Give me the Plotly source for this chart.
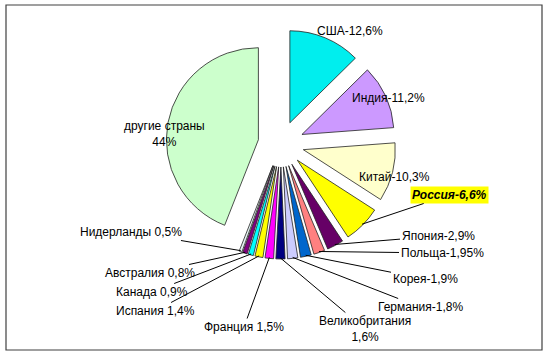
import math
import plotly.graph_objects as go

# ---- data ----
countries = ["США", "Индия", "Китай", "Россия", "Япония", "Польща", "Корея",
             "Германия", "Великобритания", "Франция", "Испания", "Канада",
             "Австралия", "Нидерланды", "другие страны"]
shares = [12.6, 11.2, 10.3, 6.6, 2.9, 1.95, 1.9, 1.8, 1.6, 1.5, 1.4, 0.9, 0.8, 0.5, 44]
share_text = ["12,6%", "11,2%", "10,3%", "6,6%", "2,9%", "1,95%", "1,9%", "1,8%",
              "1,6%", "1,5%", "1,4%", "0,9%", "0,8%", "0,5%", "44%"]
colors = ["#00EEEE", "#CC99FF", "#FFFFCC", "#FFFF00", "#660066", "#FF8080", "#0066CC",
          "#CCCCFF", "#000080", "#FF00FF", "#FFFF00", "#00FFFF", "#800080", "#E4F2F2",
          "#CCFFCC"]

# ---- layout geometry (pixels) ----
W, H = 550, 357
PULL = 0.25
CX, CY, HALF = 281, 144, 115   # pie centre and half size of its domain box

fig = go.Figure()
fig.add_trace(go.Pie(
    labels=countries, values=shares, sort=False, direction="clockwise", rotation=0,
    pull=[PULL] * len(shares), textinfo="none", hoverinfo="label+percent",
    marker=dict(colors=colors, line=dict(color="#222222", width=0.8)),
    domain=dict(x=[(CX - HALF) / W, (CX + HALF) / W],
                y=[1 - (CY + HALF) / H, 1 - (CY - HALF) / H]),
))

# radius of the outer edge of pulled slices
R_OUT = HALF - 1
total = sum(shares)
mids = []
acc = 0.0
for v in shares:
    mids.append((acc + v / 2) / total * 2 * math.pi)
    acc += v


def tip(i):
    a = mids[i]
    return CX + R_OUT * math.sin(a), CY - R_OUT * math.cos(a)


def px2paper(x, y):
    return x / W, 1 - y / H


FONT = dict(family="Liberation Sans, Arial, sans-serif", size=12, color="#000000")

# labels without leader lines: (index, text centre px)
plain = {0: (350, 22), 1: (427, 89), 2: (432, 177)}
for i, (tx, ty) in plain.items():
    px, py = px2paper(tx, ty)
    fig.add_annotation(x=px, y=py, xref="paper", yref="paper", showarrow=False,
                       text=f"{countries[i]}-{share_text[i]}", font=FONT)

px, py = px2paper(122, 117)
fig.add_annotation(x=px, y=py, xref="paper", yref="paper", showarrow=False,
                   text=f"{countries[14]}<br>{share_text[14]}", font=FONT)

# labels with leader lines: index -> (text centre px, text)
lead = {
    3: (449, 195, "<b><i>Россия-6,6%</i></b>"),
    4: (438, 236, "Япония-2,9%"),
    5: (442, 253, "Польща-1,95%"),
    6: (425, 279, "Корея-1,9%"),
    7: (420, 307, "Германия-1,8%"),
    8: (365, 329, "Великобритания<br>1,6%"),
    9: (244, 327, "Франция 1,5%"),
    10: (155, 311, "Испания 1,4%"),
    11: (152, 292, "Канада 0,9%"),
    12: (150, 273, "Австралия 0,8%"),
    13: (131, 232, "Нидерланды 0,5%"),
}
for i, (tx, ty, txt) in lead.items():
    x0, y0 = tip(i)
    px, py = px2paper(x0, y0)
    kw = {}
    if i == 3:
        kw = dict(bgcolor="#FFFF00", borderpad=1)
    fig.add_annotation(x=px, y=py, xref="paper", yref="paper", text=txt, font=FONT,
                       showarrow=True, arrowhead=0, arrowwidth=1, arrowcolor="#000000",
                       ax=tx - x0, ay=ty - y0, axref="pixel", ayref="pixel",
                       standoff=0, startstandoff=0, **kw)

# chart frame
fig.add_shape(type="rect", xref="paper", yref="paper",
              x0=6 / W, x1=542 / W, y0=1 - 350 / H, y1=1 - 5 / H,
              line=dict(color="#404040", width=1.2), fillcolor="rgba(0,0,0,0)")

fig.update_layout(width=W, height=H, margin=dict(l=0, r=0, t=0, b=0),
                  paper_bgcolor="white", plot_bgcolor="white", showlegend=False)
fig.write_html("out.html", config={"displayModeBar": False},
               post_script="document.body.style.margin='0';document.body.style.overflow='hidden';")
